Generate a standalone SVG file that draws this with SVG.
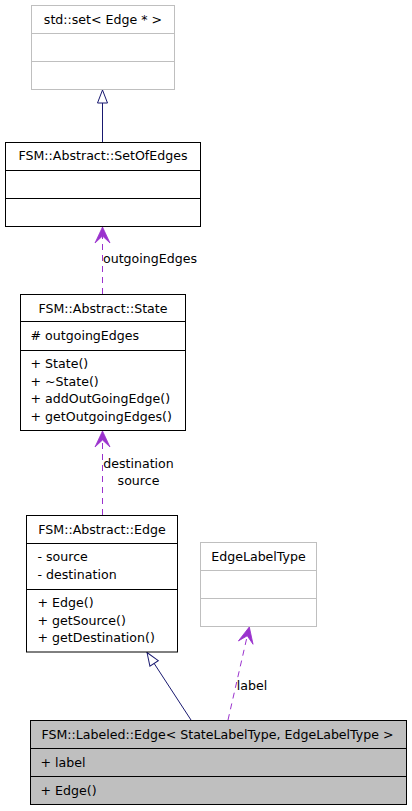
<svg xmlns="http://www.w3.org/2000/svg" width="412" height="811" viewBox="0 0 412 811">
<style>
  text { font-family: "DejaVu Sans", "Liberation Sans", sans-serif; font-size: 12.6px; fill: #000; }
  .c { text-anchor: middle; }
  .box { fill: #fff; stroke: #000; stroke-width: 1; }
  .gbox { fill: #fff; stroke: #bfbfbf; stroke-width: 1; }
  .sel { fill: #bfbfbf; stroke: #000; stroke-width: 1; }
  .div { stroke: #000; stroke-width: 1; }
  .gdiv { stroke: #bfbfbf; stroke-width: 1; }
  .inh { fill: none; stroke: #191970; stroke-width: 1; }
  .use { fill: none; stroke: #9a32cd; stroke-width: 1; stroke-dasharray: 6,5; }
</style>
<defs>
  <marker id="tri" markerUnits="userSpaceOnUse" markerWidth="16" markerHeight="14" refX="14" refY="7" orient="auto" overflow="visible">
    <path d="M1,2 L14,7 L1,12 Z" fill="#fff" stroke="#191970" stroke-width="1"/>
  </marker>
  <marker id="vee" markerUnits="userSpaceOnUse" markerWidth="18" markerHeight="18" refX="16" refY="9" orient="auto" overflow="visible">
    <path d="M16,9 L0,1.5 L7,9 L0,16.5 Z" fill="#9a32cd" stroke="#9a32cd" stroke-width="0.8" stroke-linejoin="round"/>
  </marker>
</defs>

<g id="connectors">
  <line class="inh" x1="102.5" y1="142" x2="102.5" y2="90" marker-end="url(#tri)"/>
  <line class="use" x1="102.5" y1="294" x2="102.5" y2="227" marker-end="url(#vee)"/>
  <line class="use" x1="102.5" y1="515" x2="102.5" y2="431" marker-end="url(#vee)"/>
  <line class="inh" x1="191" y1="720" x2="147" y2="652.5" marker-end="url(#tri)"/>
  <line class="use" x1="228" y1="720" x2="249.3" y2="627" marker-end="url(#vee)"/>
  <text x="103" y="262.5">outgoingEdges</text>
  <text x="138.5" y="468" class="c">destination</text>
  <text x="138.5" y="485" class="c">source</text>
  <text x="252" y="690" class="c">label</text>
</g>

<g id="node-stdset">
  <rect class="gbox" x="31.5" y="5.5" width="143" height="84"/>
  <line class="gdiv" x1="31.5" y1="33.5" x2="174.5" y2="33.5"/>
  <line class="gdiv" x1="31.5" y1="61.5" x2="174.5" y2="61.5"/>
  <text x="103" y="23.5" class="c">std::set&lt; Edge * &gt;</text>
</g>

<g id="node-setofedges">
  <rect class="box" x="5.5" y="142.5" width="195" height="84"/>
  <line class="div" x1="5.5" y1="170.5" x2="200.5" y2="170.5"/>
  <line class="div" x1="5.5" y1="198.5" x2="200.5" y2="198.5"/>
  <text x="103" y="160" class="c">FSM::Abstract::SetOfEdges</text>
</g>

<g id="node-state">
  <rect class="box" x="20.5" y="294.5" width="165" height="136"/>
  <line class="div" x1="20.5" y1="321.5" x2="185.5" y2="321.5"/>
  <line class="div" x1="20.5" y1="350.5" x2="185.5" y2="350.5"/>
  <text x="103" y="312.5" class="c">FSM::Abstract::State</text>
  <text x="30.5" y="339.5"># outgoingEdges</text>
  <text x="30.5" y="368">+ State()</text>
  <text x="30.5" y="385.5">+ ~State()</text>
  <text x="30.5" y="403">+ addOutGoingEdge()</text>
  <text x="30.5" y="420.5">+ getOutgoingEdges()</text>
</g>

<g id="node-edge">
  <rect class="box" x="26.5" y="515.5" width="151" height="136.5"/>
  <line class="div" x1="26.5" y1="543.5" x2="177.5" y2="543.5"/>
  <line class="div" x1="26.5" y1="589.5" x2="177.5" y2="589.5"/>
  <text x="102" y="533.5" class="c">FSM::Abstract::Edge</text>
  <text x="37.5" y="561">- source</text>
  <text x="37.5" y="578.5">- destination</text>
  <text x="37.5" y="607">+ Edge()</text>
  <text x="37.5" y="624.5">+ getSource()</text>
  <text x="37.5" y="642">+ getDestination()</text>
</g>

<g id="node-edgelabeltype">
  <rect class="gbox" x="200.5" y="542.5" width="116" height="84"/>
  <line class="gdiv" x1="200.5" y1="570.5" x2="316.5" y2="570.5"/>
  <line class="gdiv" x1="200.5" y1="598.5" x2="316.5" y2="598.5"/>
  <text x="258.5" y="560.5" class="c">EdgeLabelType</text>
</g>

<g id="node-labelededge">
  <rect class="sel" x="30.5" y="720.5" width="376" height="84"/>
  <line class="div" x1="30.5" y1="748.5" x2="406.5" y2="748.5"/>
  <line class="div" x1="30.5" y1="776.5" x2="406.5" y2="776.5"/>
  <text x="217.5" y="738.5" class="c">FSM::Labeled::Edge&lt; StateLabelType, EdgeLabelType &gt;</text>
  <text x="40.5" y="766.5">+ label</text>
  <text x="40.5" y="794.5">+ Edge()</text>
</g>
</svg>
